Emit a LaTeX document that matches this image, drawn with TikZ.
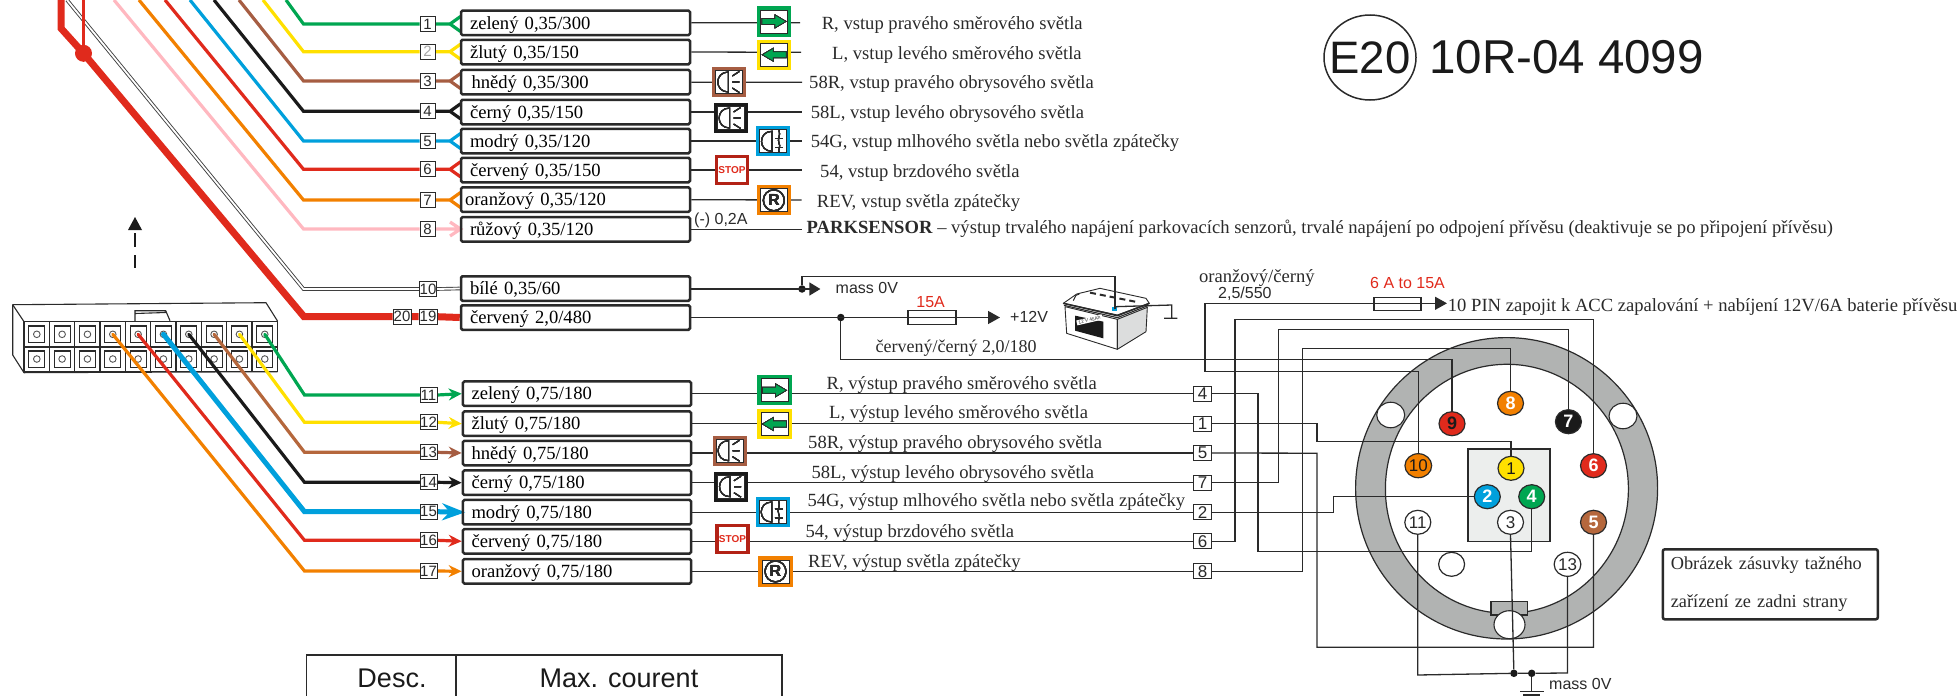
\documentclass[tikz,border=0pt]{standalone}
\usepackage{fontspec}
\setmainfont{Liberation Serif}
\setsansfont{Liberation Sans}
\usetikzlibrary{arrows.meta,shapes.geometric}
\pgfdeclarelayer{ringl}
\pgfdeclarelayer{wirel}
\pgfsetlayers{ringl,wirel,main}
\definecolor{cG}{HTML}{00A651}
\definecolor{cY}{HTML}{FFE000}
\definecolor{cBr}{HTML}{A65D42}
\definecolor{cBr2}{HTML}{B5673C}
\definecolor{cK}{HTML}{1A1A1A}
\definecolor{cB}{HTML}{00A0DC}
\definecolor{cR}{HTML}{E02A1C}
\definecolor{cO}{HTML}{F28000}
\definecolor{cP}{HTML}{FFB8C0}
\definecolor{cRing}{HTML}{B1B3B2}
\definecolor{cIn}{HTML}{ECEEED}
\definecolor{cLine}{HTML}{2A2A2A}
\tikzset{
  wbox/.style={draw=cLine,line width=2.5pt,rounded corners=1.5pt,minimum width=229pt,minimum height=24.5pt,inner xsep=8.6pt,inner ysep=0pt,text width=211pt,align=left,text height=16.5pt,text depth=4pt,font=\normalfont\fontsize{18.6}{20}\selectfont},
  numbox/.style={draw=cLine,line width=1pt,fill=white,inner sep=0pt,minimum height=15pt,font=\sffamily\fontsize{15}{15}\selectfont,text=cLine},
  wire/.style={line width=3.2pt,line join=miter},
  thinw/.style={line width=1.3pt,draw=cLine},
  lbl/.style={anchor=west,inner sep=0pt,text height=16pt,text depth=4pt,font=\normalfont\fontsize{18.6}{20}\selectfont,text=cLine},
  slbl/.style={anchor=west,inner sep=0pt,text height=12pt,text depth=3pt,font=\sffamily\mdseries\fontsize{16}{16}\selectfont,text=cLine},
  pinn/.style={ellipse,draw=cLine,line width=1.2pt,inner sep=0pt,minimum width=26pt,minimum height=24pt,font=\sffamily\bfseries\fontsize{18}{18}\selectfont,text=white},
  pinw/.style={pinn,fill=white,font=\sffamily\mdseries\fontsize{17}{17}\selectfont,text=cLine},
  hole/.style={circle,draw=cLine!80,line width=.9pt,fill=white,inner sep=0pt,minimum size=6.6pt},
  icon/.style={draw,line width=3.2pt,fill=white,inner sep=0pt,minimum width=31pt,minimum height=27pt},
  tipw/.style={-{Stealth[length=13pt,width=12pt]}},
  tipt/.style={-{Triangle[length=12pt,width=13pt]}},
  blackdot/.style={circle,fill=cK,inner sep=0pt,minimum size=7.5pt},
  fusebox/.style={draw=cLine,line width=1.2pt,inner sep=0pt,minimum width=48pt,minimum height=14pt},
  tabline/.style={draw=cLine,line width=1.2pt},
}
% inner hairline of a symbol tile
\newcommand{\tileline}[1]{\draw[cLine,line width=.8pt] ([shift={(-13.5,-11.5)}]#1.center) rectangle ([shift={(13.5,11.5)}]#1.center);}
\newcommand{\lampglyph}[1]{\begin{scope}[shift={(#1.center)},cLine,line width=1.1pt]
  \draw (-1,-10) .. controls (-15,-10) and (-15,10) .. (-1,10) -- cycle;
  \draw (3,-6) -- (10,-10.5) (3,0) -- (10,0) (3,6) -- (10,10.5);
\end{scope}}
\newcommand{\foglyph}[1]{\begin{scope}[shift={(#1.center)},cLine,line width=1.1pt]
  \draw (-1,-10) .. controls (-15,-10) and (-15,10) .. (-1,10) -- cycle;
  \draw (6,-11) .. controls (8,-6) and (4,-2) .. (6,2) .. controls (8,5) and (5,8) .. (6,11);
  \draw (2,-3) -- (10,-3) (2,6) -- (10,6);
\end{scope}}
\newcommand{\arrowR}[1]{\begin{scope}[shift={(#1.center)}]
  \draw[fill=cG,draw=cLine,line width=.7pt] (-12,-3) -- (1,-3) -- (1,-6.5) -- (12,0) -- (1,6.5) -- (1,3) -- (-12,3) -- cycle;
\end{scope}}
\newcommand{\arrowL}[1]{\begin{scope}[shift={(#1.center)}]
  \draw[fill=cG,draw=cLine,line width=.7pt] (12,-3) -- (-1,-3) -- (-1,-6.5) -- (-12,0) -- (-1,6.5) -- (-1,3) -- (12,3) -- cycle;
\end{scope}}
\newcommand{\revglyph}[1]{\draw[cLine,line width=1.3pt] (#1.center) circle (10.5);
  \node[inner sep=0pt,font=\sffamily\bfseries\fontsize{16}{16}\selectfont,text=cLine] at (#1.center) {R};}
\newcommand{\forkw}[3]{\draw[wire,#1] (#2.east) -- ++(14.5,0) -- ++(10.5,-7.5) ++(-10.5,7.5) -- ++(10.5,7.5);}
\begin{document}
\begin{tikzpicture}[x=1pt,y=-1pt]
\useasboundingbox (0,0) rectangle (1957,696);
% ---------- input boxes
\node[wbox] (b1) at (575.5,22.85) {zelený 0,35/300};
\node[wbox] (b2) at (575.5,52) {žlutý 0,35/150};
\node[wbox] (b3) at (575.5,82.15) {\hspace*{1.5pt}hnědý 0,35/300};
\node[wbox] (b4) at (575.5,112) {černý 0,35/150};
\node[wbox] (b5) at (575.5,141) {modrý 0,35/120};
\node[wbox] (b6) at (575.5,170) {červený 0,35/150};
\node[wbox] (b7) at (575.5,199.7) {\hspace*{-5pt}oranžový 0,35/120};
\node[wbox] (b8) at (575.5,229.3) {růžový 0,35/120};
\node[wbox] (b10) at (575.5,288.5) {bílé 0,35/60};
\node[wbox] (b19) at (575.5,317.5) {červený 2,0/480};
\node[wbox,minimum width=228pt] (b11) at (577,393.7) {zelený 0,75/180};
\node[wbox,minimum width=228pt] (b12) at (577,423.7) {žlutý 0,75/180};
\node[wbox,minimum width=228pt] (b13) at (577,453) {hnědý 0,75/180};
\node[wbox,minimum width=228pt] (b14) at (577,482.7) {černý 0,75/180};
\node[wbox,minimum width=228pt] (b15) at (577,512.2) {modrý 0,75/180};
\node[wbox,minimum width=228pt] (b16) at (577,541.3) {červený 0,75/180};
\node[wbox,minimum width=228pt] (b17) at (577,571.3) {oranžový 0,75/180};
% ---------- pin numbers at the boxes
\foreach \n/\y/\t in {1/24/1,3/81/3,4/111.3/4,5/141/5,6/169.3/6,7/200/7,8/229/8}
  \node[numbox,minimum width=15pt] (n\n) at (427.5,\y) {\t};
\node[numbox,minimum width=15pt,text=black!35] (n2) at (427.5,51.7) {2};
\node[numbox,minimum width=17pt] (n10) at (428,289) {10};
\node[numbox,minimum width=18pt] (n20) at (402,316.7) {20};
\node[numbox,minimum width=18pt] (n19) at (428,316.7) {19};
\foreach \n/\y in {11/395,12/422.3,13/452.3,14/482.3,15/511.7,16/540.3,17/571}
  \node[numbox,minimum width=17pt] (n\n) at (428.5,\y) {\n};
% ---------- connector housing
\begin{pgfonlayer}{ringl}
  \draw[cLine,line width=1.1pt,fill=white,line join=round] (12.7,304.7) -- (266,302.7) -- (277.3,320.7) -- (277.3,371.7) -- (24,372.7) -- (12.7,355) -- cycle;
  \draw[cLine,line width=1.1pt] (12.7,304.7) -- (24,321.7) -- (24,372.7);
  \draw[cLine,line width=1.1pt] (135,321.7) -- (135,310.7) -- (165.7,310.7) -- (170,320.7) (135,313.5) -- (165.7,312.5);
  \foreach \i in {0,...,9}{
    \pgfmathsetmacro\cx{24+25.33*\i}
    \pgfmathsetmacro\cxb{\cx+25.33}
    \pgfmathsetmacro\mx{\cx+12.8}
    \draw[cLine,line width=1.1pt,fill=white] (\cx,321.7) rectangle (\cxb,346.7);
    \draw[cLine,line width=1.1pt,fill=white] (\cx,347.2) rectangle (\cxb,371.7);
    \draw[cLine,line width=1.2pt] (\mx-8,326) rectangle (\mx+8,342.3);
    \draw[cLine,line width=1.2pt] (\mx-8,351) rectangle (\mx+8,367.3);
    \node[hole] (ha\i) at (\mx,334.3) {};
    \node[hole] (hb\i) at (\mx,359) {};
  }
  \draw[wire,cO,line cap=round] (ha3.center) -- (304.5,571) -- (n17.west);
  \draw[wire,cR,line cap=round] (ha4.center) -- (304.5,540.3) -- (n16.west);
  \draw[wire,cB,line width=5pt,line cap=round] (ha5.center) -- (304.5,511.7) -- (n15.west);
  \draw[wire,cK,line cap=round] (ha6.center) -- (304.5,482.3) -- (n14.west);
  \draw[wire,cBr2,line cap=round] (ha7.center) -- (304.5,452.3) -- (n13.west);
  \draw[wire,cY,line cap=round] (ha8.center) -- (304.5,422.3) -- (n12.west);
  \draw[wire,cG,line cap=round] (ha9.center) -- (304.5,395) -- (n11.west);
\end{pgfonlayer}
% ---------- wires to the upper boxes
\coordinate (tG) at (286,0);
\coordinate (tY) at (263,0);
\coordinate (tBr) at (239,0);
\coordinate (tK) at (214,0);
\coordinate (tB) at (190,0);
\coordinate (tR) at (165,0);
\coordinate (tO) at (139,0);
\coordinate (tP) at (114,0);
\coordinate (tW) at (67,0);
\coordinate (tRR) at (61,0);
\coordinate (tRt) at (83.5,0);
\node[circle,fill=cR,inner sep=0pt,minimum size=17pt] (rdot) at (83.5,53.3) {};
\begin{pgfonlayer}{wirel}
  \draw[wire,cG] (tG) -- (303.5,24) -- (n1.west);
  \draw[wire,cY] (tY) -- (303.5,51.7) -- (n2.west);
  \draw[wire,cBr] (tBr) -- (303.5,81) -- (n3.west);
  \draw[wire,cK] (tK) -- (303.5,111.3) -- (n4.west);
  \draw[wire,cB] (tB) -- (303.5,141) -- (n5.west);
  \draw[wire,cR] (tR) -- (303.5,169.3) -- (n6.west);
  \draw[wire,cO] (tO) -- (303.5,200) -- (n7.west);
  \draw[wire,cP] (tP) -- (303.5,229) -- (n8.west);
  \forkw{cG}{n1}{b1}
  \forkw{cY}{n2}{b2}
  \forkw{cBr}{n3}{b3}
  \forkw{cK}{n4}{b4}
  \forkw{cB}{n5}{b5}
  \forkw{cR}{n6}{b6}
  \forkw{cO}{n7}{b7}
  \draw[wire,cP] (n8.east) -- ++(25,0) ++(-10.5,-7) -- ++(10.5,7) -- ++(-10.5,7);
  \draw[line width=3.6pt,cLine!90,line join=miter] (tW) -- (303.5,289) -- (n10.west) (n10.east) -- (b10.west);
  \draw[line width=1.8pt,white,line join=miter] (tW) -- (303.5,289) -- (n10.west) (n10.east) -- (b10.west);
  \draw[wire,cR,line width=7pt] (tRR) -- (61,28.3) -- (rdot.center) -- (304,316.7) -- (n20.west);
  \draw[wire,cR,line width=7pt] (n20.east) -- (n19.west) (n19.east) -- (b19.west);
  \draw[wire,cR,line width=3.6pt] (tRt) -- (rdot.center);
  \draw[wire,tipw,cG] (n11.east) -- (b11.west);
  \draw[wire,tipw,cY] (n12.east) -- (b12.west);
  \draw[wire,tipw,cBr] (n13.east) -- (b13.west);
  \draw[wire,tipw,cK] (n14.east) -- (b14.west);
  \draw[wire,-{Stealth[length=23pt,width=17pt]},cB,line width=5pt,shorten >=-3.5pt] (n15.east) -- (b15.west);
  \draw[wire,tipw,cR] (n16.east) -- (b16.west);
  \draw[wire,tipw,cO] (n17.east) -- (b17.west);
\end{pgfonlayer}
% ---------- dashed direction arrow
\coordinate (da) at (135,268);
\fill[cK] (128,230) -- (135,217) -- (142,230) -- cycle;
\draw[cK,line width=2.4pt] (135,233) -- (135,247) (135,255) -- (da);
% ---------- symbol tiles, input side
\node[icon,draw=cG] (ia1) at (774,21.4) {};
\node[icon,draw=cY] (ia2) at (774.3,54.7) {};
\node[icon,draw=cBr] (ia3) at (729.3,82) {};
\node[icon,draw=cK] (ia4) at (730.6,118) {};
\node[icon,draw=cB] (ia5) at (773,141.3) {};
\node[icon,draw=cO] (ia7) at (773.8,200.3) {};
\coordinate (s1) at (800,22.7);
\coordinate (s2) at (801,52.3);
\coordinate (s3) at (802,82.3);
\coordinate (s4) at (802,112);
\coordinate (s5) at (801.6,141);
\coordinate (s6) at (801.6,170);
\coordinate (s7) at (801.6,200);
\coordinate (s8) at (801.6,229.3);
\begin{pgfonlayer}{wirel}
  \foreach \i in {1,...,8} \draw[thinw] (b\i.east) -- (s\i);
\end{pgfonlayer}
\foreach \i in {1,2,3,4,5,7} \tileline{ia\i}
\arrowR{ia1}\arrowL{ia2}\lampglyph{ia3}\lampglyph{ia4}\foglyph{ia5}\revglyph{ia7}
\node[icon,draw=cR!80!black,font=\sffamily\bfseries\fontsize{10}{10}\selectfont,text=cR] (ia6) at (732,170.2) {STOP};
% ---------- labels, input side
\node[slbl] (l0) at (694,220) {(-) 0,2A};
\node[lbl] (l1) at (821.6,23.3) {R, vstup pravého směrového světla};
\node[lbl] (l2) at (832,53.3) {L, vstup levého směrového světla};
\node[lbl] (l3) at (809,82) {58R, vstup pravého obrysového světla};
\node[lbl] (l4) at (810.6,112) {58L, vstup levého obrysového světla};
\node[lbl] (l5) at (810.6,141) {54G, vstup mlhového světla nebo světla zpátečky};
\node[lbl] (l6) at (820,171) {54, vstup brzdového světla};
\node[lbl] (l7) at (816.7,201) {REV, vstup světla zpátečky};
\node[lbl] (l8) at (806.5,227) {\textbf{PARKSENSOR} – výstup trvalého napájení parkovacích senzorů, trvalé napájení po odpojení přívěsu (deaktivuje se po připojení přívěsu)};
% ---------- supply part
\node[blackdot] (dW) at (802,289) {};
\node[blackdot] (dP) at (840.8,317.5) {};
\node[fusebox] (f1) at (932,317.4) {};
\node[slbl,anchor=center,text=cR] (t15) at (930.6,302.7) {15A};
\coordinate (aP) at (1000,317.5);
\node[slbl] (tM) at (835.5,289) {mass 0V};
\node[slbl] (t12) at (1010,317.5) {+12V};
\coordinate (aM) at (820.4,289);
% battery
\begin{scope}[shift={(1040,270)},scale=1/3,line width=.9pt,draw=cLine,line join=round]
  \draw[fill=white] (70,100) -- (110,72) -- (180,55) -- (318,85) -- (328,100) -- (232,135) -- cycle;
  \draw[fill=white] (75,110) -- (232,148) -- (232,238) -- (80,190) -- cycle;
  \draw[fill=cIn!85!gray] (232,148) -- (322,112) -- (318,185) -- (232,238) -- cycle;
  \draw[line width=1.6pt] (70,100) -- (232,137) -- (328,100);
  \draw[line width=1.1pt] (72,106) -- (232,143) -- (326,106);
  \fill[cK] (105,137) -- (190,155) -- (190,205) -- (105,182) -- cycle;
  \draw[line width=2pt,cLine,dash pattern=on 6pt off 4pt] (150,68) -- (290,96);
  \fill[cB] (215,112) rectangle (232,124);
  \draw[line width=1pt] (100,92) -- (108,76) -- (118,72);
\end{scope}
\node[inner sep=0pt,fill=white,rotate=13,font=\sffamily\fontsize{4.8}{5}\selectfont,text=cLine,minimum width=26pt,minimum height=5pt] (batlab) at (1089.5,320) {12 V 45Ah};
\coordinate (batP) at (1115,309);
\coordinate (batN) at (1115,306.7);
\coordinate (gA) at (1171.7,305);
\draw[thinw] (batN) -- (gA) -- (1171.7,318.3) (1164,318.3) -- (1177.3,318.3);
\draw[thinw,-{Triangle[length=11pt,width=13pt]}] (b10.east |- dW) -- (aM);
\draw[thinw] (dW) -- (802,276.7) -- (1115,276.7) -- (batP);
\draw[thinw,tipt] (b19.east) -- (aP);
% ---------- plug ring
\begin{pgfonlayer}{ringl}
  \draw[cLine,line width=1.2pt,fill=cRing] (1506.6,488.3) ellipse [x radius=151,y radius=150.7];
  \draw[cLine,line width=1.2pt,fill=white] (1506.9,488.8) ellipse [x radius=121.5,y radius=124.5];
  \draw[cLine,line width=1.5pt,fill=cIn] (1468,449) rectangle (1550,541.7);
  \draw[cLine,line width=1.2pt,fill=cRing] (1491,601.7) rectangle (1527.4,615);
  \node[ellipse,draw=cLine,line width=1.1pt,fill=white,inner sep=0pt,minimum width=28pt,minimum height=25.5pt] (hL) at (1390.7,415) {};
  \node[ellipse,draw=cLine,line width=1.1pt,fill=white,inner sep=0pt,minimum width=28pt,minimum height=25.5pt] (hR) at (1623,416) {};
  \node[ellipse,draw=cLine,line width=1.1pt,fill=white,inner sep=0pt,minimum width=31pt,minimum height=28pt] (hB) at (1509.5,624.7) {};
\end{pgfonlayer}
% ---------- pins
\node[pinn,fill=cR,text=cK] (p9) at (1452,423.7) {9};
\node[pinn,fill=cO] (p8) at (1510.5,403.3) {8};
\node[pinn,fill=cK] (p7) at (1568.4,421.7) {7};
\node[pinn,fill=cO,text=cK,font=\sffamily\mdseries\fontsize{17}{17}\selectfont] (p10) at (1418.3,465.7) {10};
\node[pinn,fill=cR] (p6) at (1593.5,465.7) {6};
\node[pinn,fill=cY,text=cK,font=\sffamily\mdseries\fontsize{17}{17}\selectfont] (p1) at (1511,468.3) {1};
\node[pinn,fill=cB] (p2) at (1487.3,496.7) {2};
\node[pinn,fill=cG] (p4) at (1531.7,496.7) {4};
\node[pinw] (p3) at (1510.5,522.3) {3};
\node[pinw] (p11) at (1417.8,522.3) {11};
\node[pinn,fill=cBr2] (p5) at (1593.5,522.3) {5};
\node[pinw] (p13) at (1567.5,564.3) {13};
\node[pinw] (p0) at (1451.6,564.3) {};
% ---------- output side tiles, labels, numbers
\node[icon,draw=cG] (io1) at (774.4,390.3) {};
\node[icon,draw=cY] (io2) at (774.4,424) {};
\node[icon,draw=cBr] (io3) at (729.6,450.7) {};
\node[icon,draw=cK] (io4) at (731,486.7) {};
\node[icon,draw=cB] (io5) at (772.7,512) {};
\node[icon,draw=cO] (io7) at (775.5,571.4) {};
\foreach \i in {1,2,3,4,5,7} \tileline{io\i}
\arrowR{io1}\arrowL{io2}\lampglyph{io3}\lampglyph{io4}\foglyph{io5}\revglyph{io7}
\node[icon,draw=cR!80!black,font=\sffamily\bfseries\fontsize{10}{10}\selectfont,text=cR] (io6) at (732.5,539) {STOP};
\node[slbl] (tM2) at (1549,685) {mass 0V};
\node[lbl] (o1) at (826.5,383.3) {R, výstup pravého směrového světla};
\node[lbl] (o2) at (829,412.7) {L, výstup levého směrového světla};
\node[lbl] (o3) at (808,442.7) {58R, výstup pravého obrysového světla};
\node[lbl] (o4) at (811.4,472.7) {58L, výstup levého obrysového světla};
\node[lbl] (o5) at (807.3,500.7) {54G, výstup mlhového světla nebo světla zpátečky};
\node[lbl] (o6) at (805.3,531.7) {54, výstup brzdového světla};
\node[lbl] (o7) at (808,561.7) {REV, výstup světla zpátečky};
\foreach \t/\y/\k in {4/393.7/a,1/423.7/b,5/453/c,7/482.7/d,2/512.2/e,6/541.3/f,8/571.3/g}
  \node[numbox,minimum width=17.5pt,font=\sffamily\fontsize{17}{17}\selectfont] (x\k) at (1202.7,\y) {\t};
\node[fusebox,minimum width=47pt,minimum height=13.5pt] (f2) at (1397.4,304) {};
\coordinate (f2end) at (1447,303.3);
\begin{pgfonlayer}{wirel}
  \draw[thinw] (b11.east) -- (xa.west);
  \draw[thinw] (b12.east) -- (xb.west);
  \draw[thinw] (b13.east) -- (xc.west);
  \draw[thinw] (b14.east) -- (xd.west);
  \draw[thinw] (b15.east) -- (xe.west);
  \draw[thinw] (b16.east) -- (xf.west);
  \draw[thinw] (b17.east) -- (xg.west);
  \draw[thinw] (xa.east) -- (1258,393.7) -- (1258,551.7) -- (1531.7,551.7) -- (p4.south);
  \draw[thinw] (xb.east) -- (1316.9,423.7) -- (1316.9,441.7) -- (1511,441.7) -- (p1.north);
  \draw[thinw] (xc.east) -- (1316.9,453.2) -- (1316.9,647.3) -- (1593.5,647.3) -- (p5.south);
  \draw[thinw] (xd.east) -- (1278.2,482.7) -- (1278.2,329.3) -- (1568.4,329.3) -- (p7.north);
  \draw[thinw] (xe.east) -- (1333.7,512.2) -- (1333.7,496.7) -- (p2.west);
  \draw[thinw] (xf.east) -- (1235,541.3) -- (1235,319.3) -- (1593.5,319.3) -- (p6.north);
  \draw[thinw] (xg.east) -- (1302.4,571.3) -- (1302.4,348.3) -- (1510.5,348.3) -- (p8.north);
  \draw[thinw] (dP) -- (840.8,359.3) -- (1452,359.3) -- (p9.north);
  \draw[thinw,tipt] (p10.north) -- (1418.3,371.7) -- (1205,371.7) -- (1205,303.3) -- (f2end);
\end{pgfonlayer}
% ---------- right supply
\node[slbl,text=cR] (t6) at (1370,284.3) {6 A to 15A};
\node[lbl] (t10) at (1447.7,305) {10 PIN zapojit k ACC zapalování + nabíjení 12V/6A baterie přívěsu};
\node[lbl] (tOr) at (1198.8,276.8) {oranžový/černý};
\node[slbl] (t25) at (1218,294) {2,5/550};
\node[lbl,font=\normalfont\fontsize{18}{20}\selectfont] (tRc) at (875.5,346.7) {červený/černý 2,0/180};
% ---------- ground
\node[blackdot] (gA2) at (1513.9,673.3) {};
\node[blackdot] (gB) at (1531.7,673.3) {};
\coordinate (gE) at (1531.7,691.7);
\begin{pgfonlayer}{wirel}
  \draw[thinw] (p3.south) -- (gA2);
  \draw[thinw] (p11.south) -- (1417.8,675) -- (gA2);
  \draw[thinw] (gA2) -- (gB) -- (1567.5,673) -- (p13.south);
  \draw[thinw] (gB) -- (gE);
  \draw[thinw] (1520,691.7) -- (1543.8,691.7) (1523,695) -- (1540,695);
\end{pgfonlayer}
% ---------- caption box
\node[draw=cLine,line width=2.5pt,rounded corners=2pt,minimum width=215pt,minimum height=70pt,inner xsep=8pt,inner ysep=0pt,text width=199pt,align=left,font=\normalfont\fontsize{18.3}{38}\selectfont,text=cLine] (cap) at (1770.3,584.3) {Obrázek zásuvky tažného\\zařízení ze zadni strany};
% ---------- approval mark
\node[ellipse,draw=cLine,line width=1.5pt,inner sep=0pt,minimum width=92pt,minimum height=85pt] (e20) at (1370,57.5) {};
\node[inner sep=0pt,font=\sffamily\fontsize{45.5}{46}\selectfont,text=cK] (e20t) at (e20.center) {E20};
\node[anchor=west,inner sep=0pt,font=\sffamily\fontsize{47.5}{48}\selectfont,text=cK] (appr) at (1429,57.5) {10R-04 4099};
% ---------- table
\draw[tabline] (306.7,696) -- (306.7,655) -- (782,655) -- (782,696);
\draw[tabline] (456,655) -- (456,696);
\node[inner sep=0pt,font=\sffamily\fontsize{27}{27}\selectfont,text=cK] (tab1) at (392,678) {Desc.};
\node[inner sep=0pt,font=\sffamily\fontsize{27}{27}\selectfont,text=cK] (tab2) at (619,678) {Max. courent};
\end{tikzpicture}
\end{document}
